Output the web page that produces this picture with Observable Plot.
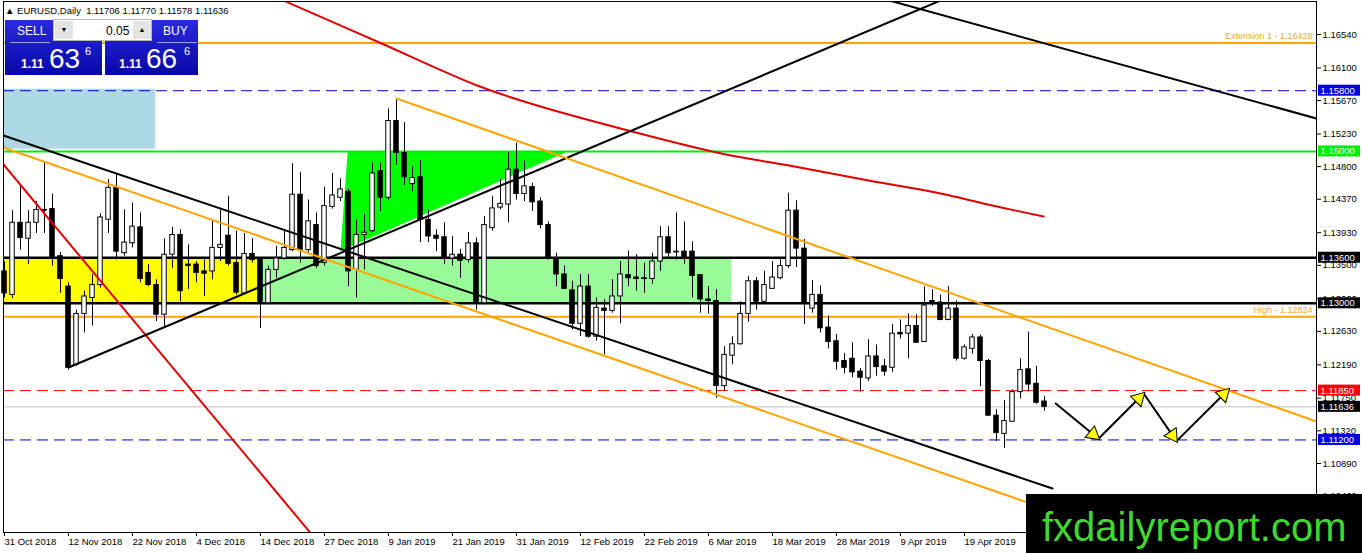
<!DOCTYPE html>
<html>
<head>
<meta charset="utf-8">
<script src="https://cdn.jsdelivr.net/npm/d3@7"></script>
<script src="https://cdn.jsdelivr.net/npm/@observablehq/plot@0.6"></script>
<style>
  body { margin: 0; background: #fff; font-family: "Liberation Sans", Arial, sans-serif; }
  #wrap { position: relative; width: 1362px; height: 553px; overflow: hidden; }
  #chart svg { display: block; }
  .abs { position: absolute; line-height: 1; white-space: nowrap; }
  .hdr { left: 5px; top: 6px; font-size: 9.5px; color: #000; }
  .panel { position: absolute; top: 20px; height: 55px; background: linear-gradient(#2a2ae0, #0707a6); }
  .w { color: #fff; }
  .rule { position: absolute; height: 1px; background: rgba(255,255,255,0.6); }
  .spin { position: absolute; left: 53px; top: 19px; width: 99px; height: 22px; background: #fff; border: 1px solid #b8b8b8; box-sizing: border-box; }
  .btn { position: absolute; top: 1px; width: 18px; height: 18px; background: #e4e4e4; font-size: 7px; text-align: center; line-height: 18px; color: #000; }
  .wm { position: absolute; left: 1026px; top: 494px; width: 336px; height: 59px; background: #000; }
</style>
</head>
<body>
<div id="wrap">
  <div id="chart"></div>
  <div class="abs hdr">&#9650; EURUSD,Daily&nbsp; 1.11706 1.11770 1.11578 1.11636</div>

  <div class="panel" style="left:5px;width:97px;"></div>
  <div class="panel" style="left:105px;width:93px;"></div>
  <div class="rule" style="left:10px;top:42px;width:40px;"></div>
  <div class="rule" style="left:157px;top:42px;width:40px;"></div>
  <div class="abs w" style="left:17px;top:25px;font-size:12px;">SELL</div>
  <div class="abs w" style="left:163px;top:25px;font-size:12px;">BUY</div>
  <div class="spin">
    <div class="btn" style="left:1px;">&#9660;</div>
    <div class="abs" style="left:52px;top:5px;font-size:12px;">0.05</div>
    <div class="btn" style="left:79px;">&#9650;</div>
  </div>
  <div class="abs w" style="left:21px;top:58px;font-size:12px;font-weight:bold;">1.11</div>
  <div class="abs w" style="left:49px;top:45px;font-size:28px;">63</div>
  <div class="abs w" style="left:85px;top:46px;font-size:11px;">6</div>
  <div class="abs w" style="left:119px;top:58px;font-size:12px;font-weight:bold;">1.11</div>
  <div class="abs w" style="left:146px;top:45px;font-size:28px;">66</div>
  <div class="abs w" style="left:184px;top:46px;font-size:11px;">6</div>

  <div class="wm"><div class="abs" style="left:16px;top:13px;font-size:40px;color:#40d830;">fxdailyreport.com</div></div>
</div>
<script>
// EURUSD daily candles, bar 0 = 31 Oct 2018
const open = [1.1342,1.1311,1.1406,1.1385,1.1406,1.1423,1.1424,1.1362,1.1322,1.1219,
  1.1286,1.1307,1.1324,1.1410,1.1452,1.1366,1.1379,1.1400,1.1340,1.1324,
  1.1285,1.1364,1.1390,1.1351,1.1351,1.1342,1.1342,1.1373,1.1389,1.1353,
  1.1313,1.1365,1.1357,1.1300,1.1344,1.1359,1.1370,1.1443,1.1370,1.1403,
  1.1353,1.1427,1.1439,1.1447,1.1344,1.1390,1.1395,1.1474,1.1439,1.1540,
  1.1498,1.1457,1.1466,1.1410,1.1389,1.1387,1.1359,1.1364,1.1357,1.1379,
  1.1300,1.1399,1.1426,1.1430,1.1476,1.1444,1.1453,1.1434,1.1403,1.1359,
  1.1338,1.1317,1.1273,1.1322,1.1256,1.1293,1.1290,1.1309,1.1337,1.1334,
  1.1333,1.1332,1.1355,1.1387,1.1368,1.1368,1.1368,1.1337,1.1305,1.1303,
  1.1191,1.1231,1.1246,1.1286,1.1329,1.1302,1.1319,1.1333,1.1349,1.1422,
  1.1372,1.1293,1.1311,1.1268,1.1250,1.1224,1.1227,1.1210,1.1201,1.1230,
  1.1217,1.1215,1.1261,1.1260,1.1270,1.1249,1.1303,1.1301,1.1278,1.1293,
  1.1227,1.1240,1.1255,1.1224,1.1152,1.1128,1.1144,1.1183,1.1213,1.1194,1.11706];
const high = [1.1355,1.1422,1.1456,1.1422,1.1434,1.1485,1.1444,1.1367,1.1327,1.1291,
  1.1316,1.1338,1.1418,1.1463,1.1471,1.1423,1.1432,1.1419,1.1351,1.1331,
  1.1385,1.1400,1.1397,1.1377,1.1355,1.1357,1.1408,1.1423,1.1441,1.1395,
  1.1392,1.1385,1.1360,1.1349,1.1375,1.1397,1.1484,1.1472,1.1436,1.1419,
  1.1453,1.1471,1.1464,1.1450,1.1410,1.1417,1.1485,1.1485,1.1556,1.1568,
  1.1538,1.1480,1.1488,1.1423,1.1397,1.1406,1.1388,1.1371,1.1393,1.1386,
  1.1414,1.1441,1.1463,1.1498,1.1511,1.1487,1.1458,1.1439,1.1407,1.1366,
  1.1349,1.1329,1.1338,1.1338,1.1307,1.1305,1.1331,1.1355,1.1369,1.1364,
  1.1353,1.1366,1.1401,1.1401,1.1419,1.1407,1.1381,1.1338,1.1322,1.1318,
  1.1243,1.1256,1.1302,1.1335,1.1334,1.1342,1.1355,1.1360,1.1445,1.1435,
  1.1384,1.1330,1.1323,1.1283,1.1259,1.1234,1.1248,1.1214,1.1252,1.1245,
  1.1226,1.1272,1.1278,1.1286,1.1285,1.1322,1.1318,1.1311,1.1322,1.1303,
  1.1245,1.1259,1.1258,1.1226,1.1160,1.1172,1.1186,1.1227,1.1262,1.1217,1.11770];
const low = [1.1307,1.1306,1.1370,1.1351,1.1392,1.1392,1.1349,1.1313,1.1212,1.1217,
  1.1261,1.1270,1.1320,1.1392,1.1357,1.1362,1.1373,1.1327,1.1322,1.1276,
  1.1267,1.1346,1.1302,1.1318,1.1327,1.1309,1.1331,1.1355,1.1349,1.1311,
  1.1311,1.1353,1.1267,1.1298,1.1333,1.1357,1.1368,1.1353,1.1366,1.1346,
  1.1349,1.1424,1.1434,1.1322,1.1307,1.1344,1.1393,1.1421,1.1436,1.1482,
  1.1455,1.1447,1.1380,1.1380,1.1368,1.1351,1.1349,1.1333,1.1353,1.1291,
  1.1298,1.1395,1.1423,1.1406,1.1436,1.1434,1.1421,1.1398,1.1357,1.1322,
  1.1318,1.1265,1.1256,1.1254,1.1250,1.1232,1.1287,1.1273,1.1322,1.1316,
  1.1313,1.1325,1.1342,1.1360,1.1357,1.1351,1.1307,1.1287,1.1286,1.1175,
  1.1184,1.1219,1.1245,1.1275,1.1291,1.1300,1.1318,1.1331,1.1346,1.1347,
  1.1272,1.1287,1.1261,1.1240,1.1212,1.1207,1.1202,1.1183,1.1197,1.1204,
  1.1204,1.1209,1.1253,1.1227,1.1247,1.1249,1.1296,1.1277,1.1277,1.1224,
  1.1225,1.1233,1.1190,1.1151,1.1118,1.1109,1.1144,1.1174,1.1183,1.1167,1.11578];
const close = [1.1313,1.1406,1.1386,1.1406,1.1423,1.1422,1.1360,1.1332,1.1215,1.1286,
  1.1309,1.1324,1.1413,1.1452,1.1368,1.1380,1.1401,1.1332,1.1324,1.1285,
  1.1364,1.1390,1.1316,1.1349,1.1340,1.1339,1.1373,1.1377,1.1352,1.1314,
  1.1365,1.1357,1.1302,1.1344,1.1359,1.1373,1.1443,1.1370,1.1408,1.1349,
  1.1428,1.1442,1.1450,1.1342,1.1390,1.1393,1.1471,1.1439,1.1540,1.1498,
  1.1466,1.1465,1.1410,1.1388,1.1385,1.1359,1.1364,1.1356,1.1379,1.1302,
  1.1403,1.1425,1.1431,1.1476,1.1444,1.1454,1.1433,1.1403,1.1359,1.1338,
  1.1319,1.1273,1.1322,1.1256,1.1294,1.1290,1.1309,1.1338,1.1333,1.1332,
  1.1332,1.1355,1.1387,1.1366,1.1367,1.1360,1.1336,1.1305,1.1303,1.1191,
  1.1232,1.1246,1.1286,1.1329,1.1302,1.1324,1.1334,1.1349,1.1422,1.1372,
  1.1299,1.1311,1.1267,1.1249,1.1223,1.1215,1.1209,1.1202,1.1230,1.1216,
  1.1210,1.1260,1.1259,1.1270,1.1248,1.1297,1.1299,1.1278,1.1293,1.1227,
  1.1242,1.1255,1.1224,1.1152,1.1129,1.1145,1.1183,1.1212,1.1193,1.1169,1.11636];

const dateTicks = [0, 8, 16, 24, 32, 40, 48, 56, 64, 72, 80, 88, 96, 104, 112, 120];
const dateLabels = ["31 Oct 2018", "12 Nov 2018", "22 Nov 2018", "4 Dec 2018", "14 Dec 2018",
  "27 Dec 2018", "9 Jan 2019", "21 Jan 2019", "31 Jan 2019", "12 Feb 2019", "22 Feb 2019",
  "6 Mar 2019", "18 Mar 2019", "28 Mar 2019", "9 Apr 2019", "19 Apr 2019"];
const priceTicks = [1.16540, 1.16100, 1.15670, 1.15230, 1.14800, 1.14370, 1.13930, 1.13500,
  1.13060, 1.12630, 1.12190, 1.11750, 1.11320, 1.10890, 1.10460];

// horizontal levels
const extensionLevel = 1.16428;
const highLevel = 1.12824;
const blueLevels = [1.15800, 1.11200];
const greenLevel = 1.15000;
const blackLevels = [1.13600, 1.13000];
const redLevel = 1.11850;
const lastPrice = 1.11636;
const tagPrices = [1.15800, 1.15000, 1.13600, 1.13000, 1.11850, 1.11636, 1.11200];

// zones: [bar from, bar to], [price low, price high]
const blueZoneBars = [-1, 18.9], blueZonePrices = [1.1503, 1.1582];
const yellowZoneBars = [-1, 32.25], greenZoneBars = [32.25, 90.9];
const rangePrices = [1.1300, 1.1360];
const triBars = [42.9, 42.0, 70.4], triPrices = [1.1500, 1.1369, 1.1500];

// trend lines: two points each
const upLineBars = [8, 117], upLinePrices = [1.12154, 1.16988];
const downLineBars = [-0.5, 131], downLinePrices = [1.15223, 1.10561];
const orangeLowBars = [-0.5, 128.25], orangeLowPrices = [1.15065, 1.10363];
const orangeHighBars = [49, 164], orangeHighPrices = [1.15697, 1.11443];
const topLineBars = [110.6, 164], topLinePrices = [1.16988, 1.15434];
const redSteepBars = [-1, 39], redSteepPrices = [1.14939, 1.09880];
const maBars = [34, 35.75, 47, 59.1, 65.75, 77, 89.6, 98.75, 108, 116.4, 124.6, 129.9];
const maPrices = [1.1703, 1.16948, 1.16428, 1.15868, 1.15631, 1.15302, 1.14973, 1.14802,
  1.14617, 1.14459, 1.14262, 1.14143];

// forecast zigzag
const fcBars = [131.4, 136.75, 142.4, 146.5, 153];
const fcPrices = [1.11680, 1.11215, 1.11812, 1.11185, 1.11865];

const W = 1362, H = 553, mL = 3, mR = 46, mT = 1, mB = 21;
const xDomain = [-0.125, 164];
const yDomain = [1.09981, 1.16975];
const pxPerBar = (W - mL - mR) / (xDomain[1] - xDomain[0]);
const pxPerPrice = (H - mT - mB) / (yDomain[1] - yDomain[0]);

const candles = open.map((o, i) => ({i, open: o, high: high[i], low: low[i], close: close[i]}));
const pts = (bars, prices) => bars.map((b, k) => ({b, p: prices[k]}));
const fc = pts(fcBars, fcPrices);
const heads = fc.slice(1).map((e, k) => {
  const s = fc[k];
  const dx = (e.b - s.b) * pxPerBar, dy = -(e.p - s.p) * pxPerPrice;
  const len = Math.hypot(dx, dy), back = 7;
  return {b: e.b - dx / len * back / pxPerBar, p: e.p + dy / len * back / pxPerPrice,
    angle: Math.atan2(dx, -dy) * 180 / Math.PI};
});
const tagColors = ["#0000e0", "#00ee00", "#000", "#000", "#ff0000", "#000", "#0000e0"];
const tags = tagPrices.map((p, k) => ({p, c: tagColors[k]}));
const tagX1 = xDomain[1] + 2 / pxPerBar, tagX2 = xDomain[1] + 44 / pxPerBar;
const tagH = 5.5 / pxPerPrice;

const trend = (bars, prices, stroke, curve = "linear") =>
  Plot.line(pts(bars, prices), {x: "b", y: "p", stroke, strokeWidth: 2, curve, clip: true});

const chart = Plot.plot({
  width: W, height: H,
  marginLeft: mL, marginRight: mR, marginTop: mT, marginBottom: mB,
  style: {fontFamily: "Liberation Sans, Arial, sans-serif", fontSize: "9.5px", background: "white", color: "black"},
  x: {domain: xDomain, label: null},
  y: {domain: yDomain, label: null},
  marks: [
    Plot.rect([0], {x1: blueZoneBars[0], x2: blueZoneBars[1], y1: blueZonePrices[0], y2: blueZonePrices[1], fill: "#add8e6", clip: true}),
    Plot.rect([0], {x1: yellowZoneBars[0], x2: yellowZoneBars[1], y1: rangePrices[0], y2: rangePrices[1], fill: "#ffff00", clip: true}),
    Plot.rect([0], {x1: greenZoneBars[0], x2: greenZoneBars[1], y1: rangePrices[0], y2: rangePrices[1], fill: "#98fb98", clip: true}),
    Plot.line(pts(triBars, triPrices), {x: "b", y: "p", fill: "#00ff00", stroke: "none"}),

    Plot.ruleY([extensionLevel], {stroke: "#ffa500", strokeWidth: 2}),
    Plot.ruleY([highLevel], {stroke: "#ffa500", strokeWidth: 2}),
    Plot.ruleY([greenLevel], {stroke: "#00ee00", strokeWidth: 2}),
    Plot.ruleY(blackLevels, {stroke: "black", strokeWidth: 2.5}),
    Plot.ruleY(blueLevels, {stroke: "#0000cd", strokeWidth: 1, strokeDasharray: "11,6"}),
    Plot.ruleY([redLevel], {stroke: "#ff0000", strokeWidth: 1, strokeDasharray: "11,6"}),
    Plot.ruleY([lastPrice], {stroke: "#c0c0c0", strokeWidth: 1}),
    Plot.text([extensionLevel], {x: xDomain[1], y: d => d, text: d => "Extension 1 - " + d.toFixed(5), textAnchor: "end", dx: -4, dy: -7, fill: "#f0a830", fontSize: 9}),
    Plot.text([highLevel], {x: xDomain[1], y: d => d, text: d => "High - " + d.toFixed(5), textAnchor: "end", dx: -4, dy: -7, fill: "#f0a830", fontSize: 9}),

    Plot.ruleX(candles, {x: "i", y1: "low", y2: "high", stroke: "black", strokeWidth: 1}),
    Plot.rect(candles, {x1: d => d.i - 0.28, x2: d => d.i + 0.28, y1: "open", y2: "close",
      fill: d => d.close >= d.open ? "white" : "black", stroke: "black", strokeWidth: 1}),

    trend(maBars, maPrices, "#e00000", "catmull-rom"),
    trend(redSteepBars, redSteepPrices, "#e00000"),
    trend(upLineBars, upLinePrices, "black"),
    trend(downLineBars, downLinePrices, "black"),
    trend(topLineBars, topLinePrices, "black"),
    trend(orangeLowBars, orangeLowPrices, "#ffa500"),
    trend(orangeHighBars, orangeHighPrices, "#ffa500"),

    Plot.line(fc, {x: "b", y: "p", stroke: "black", strokeWidth: 2}),
    Plot.dot(heads, {x: "b", y: "p", symbol: "triangle", r: 5.5, rotate: "angle", fill: "#ffff00", stroke: "black", strokeWidth: 1}),

    Plot.frame({stroke: "black"}),
    Plot.axisY(priceTicks, {anchor: "right", tickSize: 4, tickPadding: 2, tickFormat: d => d.toFixed(5), label: null}),
    Plot.axisX(dateTicks, {anchor: "bottom", tickSize: 4, tickPadding: 2, textAnchor: "start", tickFormat: d => dateLabels[dateTicks.indexOf(d)], label: null}),

    Plot.rect(tags, {x1: tagX1, x2: tagX2, y1: d => d.p - tagH, y2: d => d.p + tagH, fill: "c"}),
    Plot.text(tags, {x: tagX1, y: "p", dx: 2, text: d => d.p.toFixed(5), textAnchor: "start", fill: "white"})
  ]
});

document.getElementById("chart").append(chart);
</script>
</body>
</html>
